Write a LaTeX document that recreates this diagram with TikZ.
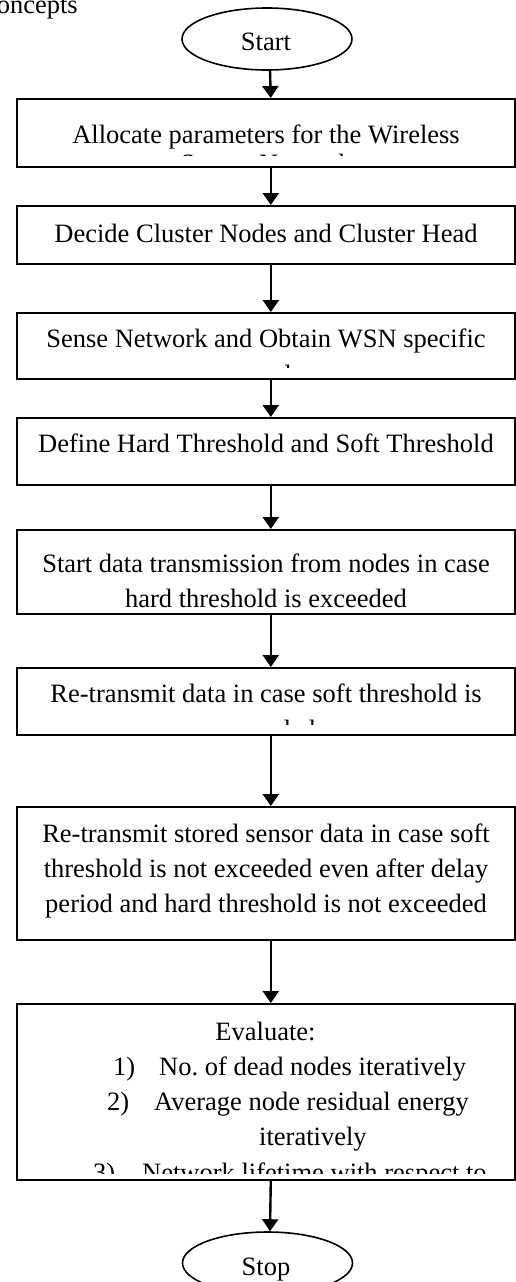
\documentclass[tikz,border=0pt]{standalone}
\usepackage{fontspec}
\setmainfont{Liberation Serif}
\usetikzlibrary{shapes.geometric,arrows.meta}
\frenchspacing
\begin{document}
\begin{tikzpicture}[x=1pt,y=-1pt,
  box/.style={draw, line width=1.6pt, rectangle, inner sep=0pt, minimum width=498pt, anchor=north west},
  oval/.style={draw, line width=1.6pt, ellipse, inner sep=0pt, minimum width=170pt, minimum height=62pt},
  txt/.style={inner sep=0pt, font=\fontsize{26.5}{35}\selectfont, anchor=base},
  arr/.style={line width=2.4pt, -{Triangle[width=16pt,length=12pt]}}]
\useasboundingbox (0,0) rectangle (515,1282);
% stray caption fragment
\node[txt, anchor=base east] (cc) at (78,13) {Concepts};
% terminals
\node[oval] (start) at (267,39) {};
\node[txt] (starttxt) at (266,50) {Start};
\node[oval] (stop) at (267.5,1263) {};
\node[txt] (stoptxt) at (266,1275) {Stop};
% boxes
\node[box, minimum height=68pt] (b1) at (16,98) {};
\node[box, minimum height=58pt] (b2) at (16,205) {};
\node[box, minimum height=66pt] (b3) at (16,312) {};
\node[box, minimum height=67pt] (b4) at (16,417) {};
\node[box, minimum height=84pt] (b5) at (16,529) {};
\node[box, minimum height=67pt] (b6) at (16,667) {};
\node[box, minimum height=133pt] (b7) at (16,806) {};
\node[box, minimum height=176pt] (b8) at (16,1003) {};
% texts
\begin{scope}
\clip (17,99) rectangle (513,155.5);
\node[txt] (t1a) at (266,143) {Allocate parameters for the Wireless};
\node[txt] (t1b) at (266,172) {Sensor Network};
\end{scope}
\node[txt] (t2) at (266,242) {Decide Cluster Nodes and Cluster Head};
\begin{scope}
\clip (17,313) rectangle (513,367.5);
\node[txt] (t3a) at (266,347) {Sense Network and Obtain WSN specific};
\node[txt] (t3b) at (300,383) {data};
\end{scope}
\node[txt] (t4) at (266,452) {Define Hard Threshold and Soft Threshold};
\node[txt] (t5a) at (266,572) {Start data transmission from nodes in case};
\node[txt] (t5b) at (266,607) {hard threshold is exceeded};
\begin{scope}
\clip (17,668) rectangle (513,724.5);
\node[txt] (t6a) at (266,702) {Re-transmit data in case soft threshold is};
\node[txt] (t6b) at (266,738) {exceeded};
\end{scope}
\node[txt] (t7a) at (266,842) {Re-transmit stored sensor data in case soft};
\node[txt] (t7b) at (266,877) {threshold is not exceeded even after delay};
\node[txt] (t7c) at (266,912) {period and hard threshold is not exceeded};
\begin{scope}
\clip (17,1004) rectangle (513,1173);
\node[txt] (t8a) at (265.5,1040) {Evaluate:};
\node[txt, anchor=base west] (n1) at (113,1075) {1)};
\node[txt, anchor=base west] (t8b) at (159,1075) {No. of dead nodes iteratively};
\node[txt, anchor=base west] (n2) at (107,1110) {2)};
\node[txt, anchor=base west] (t8c) at (154,1110) {Average node residual energy};
\node[txt, anchor=base west] (t8d) at (259,1145) {iteratively};
\node[txt, anchor=base west] (n3) at (93,1181) {3)};
\node[txt, anchor=base west] (t8e) at (142,1181) {Network lifetime with respect to};
\end{scope}
% connectors
\draw[arr] ([xshift=3pt]start.south) -- ([xshift=5pt]b1.north);
\draw[arr] ([xshift=5pt]b1.south) -- ([xshift=5pt]b2.north);
\draw[arr] ([xshift=5pt]b2.south) -- ([xshift=5pt]b3.north);
\draw[arr] ([xshift=5pt]b3.south) -- ([xshift=5pt]b4.north);
\draw[arr] ([xshift=5pt]b4.south) -- ([xshift=5pt]b5.north);
\draw[arr] ([xshift=5pt]b5.south) -- ([xshift=5pt]b6.north);
\draw[arr] ([xshift=5pt]b6.south) -- ([xshift=5pt]b7.north);
\draw[arr] ([xshift=5pt]b7.south) -- ([xshift=5pt]b8.north);
\draw[arr] ([xshift=5pt]b8.south) -- ([xshift=2.5pt]stop.north);
\end{tikzpicture}
\end{document}
